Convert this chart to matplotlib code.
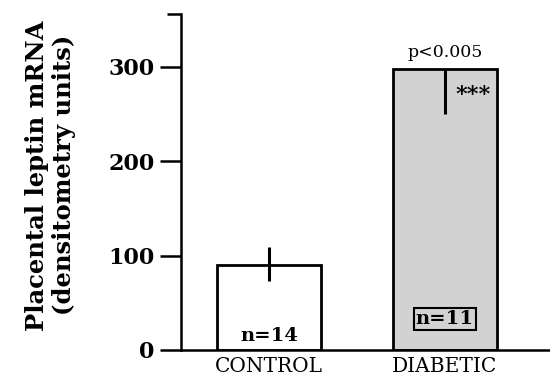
import matplotlib.pyplot as plt
import numpy as np

# valores
grupos = ['CONTROL', 'DIABETIC']
medias = [90, 298]
erro_baixo = [17, 48]
erro_cima = [19, 0]
n_amostras = ['n=14', 'n=11']
cores = ['white', '#d2d2d2']
yticks = [0, 100, 200, 300]

plt.rcParams['font.family'] = 'DejaVu Serif'

fig = plt.figure(figsize=(5.5, 3.82), dpi=100)
ax = fig.add_axes([0.329, 0.084, 0.671, 0.879])

x = np.arange(len(grupos))
ax.bar(x, medias, width=0.59, color=cores, edgecolor='black', linewidth=2, zorder=2)
ax.errorbar(x, medias, yerr=[erro_baixo, erro_cima], fmt='none', ecolor='black',
            elinewidth=2.2, capsize=0, zorder=3)

# n dentro das barras
ax.text(x[0], 5, n_amostras[0], ha='center', va='bottom', fontsize=14, fontweight='bold')
ax.text(x[1], 23, n_amostras[1], ha='center', va='bottom', fontsize=14, fontweight='bold',
        bbox=dict(boxstyle='square,pad=0.1', facecolor='none', edgecolor='black', linewidth=1.5))

# significancia
ax.text(x[1], medias[1] + 8, 'p<0.005', ha='center', va='bottom', fontsize=12.5)
ax.text(x[1] + 0.16, medias[1] - 28, '***', ha='center', va='center', fontsize=16, fontweight='bold')

ax.set_xlim(-0.5, 1.597)
ax.set_ylim(0, 356)
ax.set_yticks(yticks)
ax.set_yticklabels([str(v) for v in yticks], fontsize=16, fontweight='bold')
ax.set_yticks([356], minor=True)
ax.tick_params(axis='y', which='major', direction='out', length=15, width=1.8, pad=4)
ax.tick_params(axis='y', which='minor', direction='out', length=10, width=1.8)
ax.set_xticks(x)
ax.set_xticklabels(grupos, fontsize=14.5)
ax.tick_params(axis='x', length=0, pad=5)

ax.spines['top'].set_visible(False)
ax.spines['right'].set_visible(False)
ax.spines['left'].set_linewidth(1.8)
ax.spines['bottom'].set_linewidth(1.8)

ax.set_ylabel('Placental leptin mRNA\n(densitometry units)', fontsize=17.5, fontweight='bold',
              linespacing=1.12)
ax.yaxis.set_label_coords(-0.285, 0.52)

fig.savefig('out.png', dpi=100)
